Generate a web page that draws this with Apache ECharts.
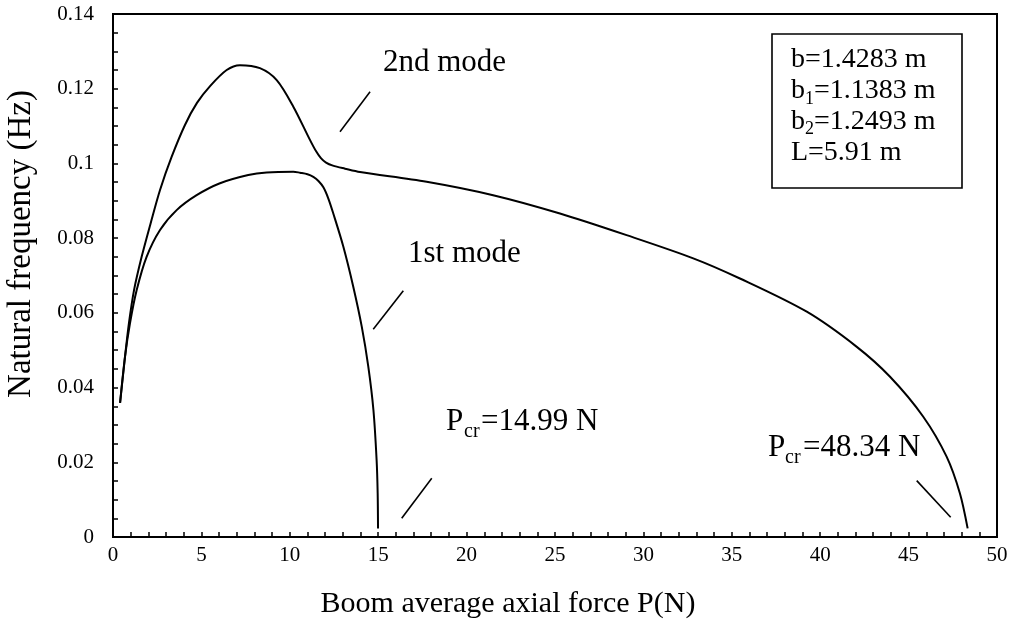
<!DOCTYPE html>
<html>
<head>
<meta charset="utf-8">
<script src="https://cdn.jsdelivr.net/npm/echarts@6/dist/echarts.min.js"></script>
<style>
  html, body { margin: 0; padding: 0; background: #fff; }
  #chart { width: 1011px; height: 623px; }
</style>
</head>
<body>
<div id="chart"></div>
<script>
// Natural frequency of the boom vs. average axial force, first two modes
const mode1 = [
  [0.40, 0.0359], [0.68, 0.0483], [0.96, 0.0572], [1.34, 0.0661], [1.90, 0.0750],
  [2.66, 0.0822], [3.60, 0.0875], [4.73, 0.0915], [6.05, 0.0947], [7.65, 0.0969],
  [8.69, 0.0976], [10.20, 0.0978], [10.58, 0.0975], [11.00, 0.0971], [11.33, 0.0964],
  [11.62, 0.0953], [11.90, 0.0936], [12.18, 0.0906], [12.46, 0.0866], [13.03, 0.0777],
  [13.59, 0.0670], [14.07, 0.0563], [14.44, 0.0456], [14.73, 0.0340], [14.91, 0.0206],
  [14.97, 0.0117], [14.99, 0.0023]
];

const mode2 = [
  [0.40, 0.0359], [0.68, 0.0483], [0.90, 0.0572], [1.19, 0.0661], [1.62, 0.0750],
  [2.13, 0.0840], [2.66, 0.0929], [3.32, 0.1018], [4.07, 0.1103], [4.75, 0.1162],
  [5.49, 0.1207], [6.43, 0.1250], [7.18, 0.1263], [8.31, 0.1255],
  [9.26, 0.1223], [10.20, 0.1152], [11.14, 0.1063], [11.48, 0.1033], [11.76, 0.1014],
  [12.05, 0.1002], [12.44, 0.0994], [13.12, 0.0986], [13.97, 0.0977], [17.74, 0.0951],
  [21.50, 0.0915], [25.28, 0.0866], [29.05, 0.0808], [32.82, 0.0746], [35.46, 0.0692],
  [39.24, 0.0603], [42.07, 0.0509], [43.95, 0.0429], [45.83, 0.0322], [47.15, 0.0215],
  [47.90, 0.0117], [48.34, 0.0023]
];

// short pointer strokes from each annotation toward its curve
const pointer2nd = [[12.84, 0.1085], [14.54, 0.1192]];
const pointer1st = [[14.72, 0.0556], [16.42, 0.0659]];
const pointerPcr1 = [[16.33, 0.0050], [18.03, 0.0157]];
const pointerPcr2 = [[45.46, 0.0151], [47.38, 0.0053]];

const xTitle = 'Boom average axial force P(N)';
const yTitle = 'Natural frequency (Hz)';
const label2nd = '2nd mode';
const label1st = '1st mode';
const pcr1Value = '=14.99 N';
const pcr2Value = '=48.34 N';
const paramLines = [
  { main: 'b', sub: '', rest: '=1.4283 m' },
  { main: 'b', sub: '1', rest: '=1.1383 m' },
  { main: 'b', sub: '2', rest: '=1.2493 m' },
  { main: 'L', sub: '', rest: '=5.91 m' }
];

const FONT = '"Liberation Serif", "Times New Roman", serif';

const chart = echarts.init(document.getElementById('chart'), null, { renderer: 'canvas' });

function curve(data) {
  return {
    type: 'line', data: data, showSymbol: false, smooth: 0.3,
    lineStyle: { color: '#000', width: 2 }, silent: true, z: 3
  };
}
function pointer(data) {
  return {
    type: 'line', data: data, showSymbol: false,
    lineStyle: { color: '#000', width: 1.6 }, silent: true, z: 3
  };
}

// text pieces for the parameter box
const boxLeft = 791, boxTop0 = 61, boxStep = 30.8;
const boxTexts = [];
paramLines.forEach(function (ln, i) {
  const y = boxTop0 + i * boxStep;
  const mainW = ln.main === 'b' ? 14 : 17;
  boxTexts.push({ type: 'text', left: boxLeft, top: y - 15, style: { text: ln.main, font: '28px ' + FONT, fill: '#000' } });
  let x = boxLeft + mainW;
  if (ln.sub) {
    boxTexts.push({ type: 'text', left: x, top: y - 2, style: { text: ln.sub, font: '18px ' + FONT, fill: '#000' } });
    x += 9;
  }
  boxTexts.push({ type: 'text', left: x, top: y - 15, style: { text: ln.rest, font: '28px ' + FONT, fill: '#000' } });
});

chart.setOption({
  animation: false,
  backgroundColor: '#fff',
  grid: {
    left: 113, right: 14, top: 14, bottom: 86,
    show: true, borderColor: '#000', borderWidth: 2, backgroundColor: 'transparent'
  },
  xAxis: {
    type: 'value', min: 0, max: 50, interval: 5,
    axisLine: { show: true, onZero: false, lineStyle: { color: '#000', width: 2 } },
    axisTick: { show: true, inside: true, length: 5, lineStyle: { color: '#000', width: 1.5 } },
    minorTick: { show: true, splitNumber: 5, length: 5, lineStyle: { color: '#000', width: 1.5 } },
    splitLine: { show: false },
    axisLabel: { color: '#000', fontSize: 21, fontFamily: FONT, margin: 8 }
  },
  yAxis: {
    type: 'value', min: 0, max: 0.14, interval: 0.02,
    axisLine: { show: true, onZero: false, lineStyle: { color: '#000', width: 2 } },
    axisTick: { show: true, inside: true, length: 5, lineStyle: { color: '#000', width: 1.5 } },
    minorTick: { show: true, splitNumber: 4, length: 5, lineStyle: { color: '#000', width: 1.5 } },
    splitLine: { show: false },
    axisLabel: {
      color: '#000', fontSize: 21, fontFamily: FONT, margin: 19,
      formatter: function (v) { return String(Math.round(v * 100) / 100); }
    }
  },
  series: [
    curve(mode1), curve(mode2),
    pointer(pointer2nd), pointer(pointer1st), pointer(pointerPcr1), pointer(pointerPcr2)
  ],
  graphic: [
    { type: 'text', x: 508, y: 604, style: { text: xTitle, font: '30px ' + FONT, fill: '#000', align: 'center', verticalAlign: 'middle' } },
    { type: 'text', x: 21, y: 244, rotation: Math.PI / 2, style: { text: yTitle, font: '33px ' + FONT, fill: '#000', align: 'center', verticalAlign: 'middle' } },
    { type: 'text', x: 383, y: 63, style: { text: label2nd, font: '31px ' + FONT, fill: '#000', align: 'left', verticalAlign: 'middle' } },
    { type: 'text', x: 408, y: 254, style: { text: label1st, font: '31px ' + FONT, fill: '#000', align: 'left', verticalAlign: 'middle' } },
    { type: 'text', x: 446, y: 422, style: { text: 'P', font: '31px ' + FONT, fill: '#000', align: 'left', verticalAlign: 'middle' } },
    { type: 'text', x: 464, y: 432, style: { text: 'cr', font: '20px ' + FONT, fill: '#000', align: 'left', verticalAlign: 'middle' } },
    { type: 'text', x: 481, y: 422, style: { text: pcr1Value, font: '31px ' + FONT, fill: '#000', align: 'left', verticalAlign: 'middle' } },
    { type: 'text', x: 768, y: 448, style: { text: 'P', font: '31px ' + FONT, fill: '#000', align: 'left', verticalAlign: 'middle' } },
    { type: 'text', x: 785, y: 458, style: { text: 'cr', font: '20px ' + FONT, fill: '#000', align: 'left', verticalAlign: 'middle' } },
    { type: 'text', x: 803, y: 448, style: { text: pcr2Value, font: '31px ' + FONT, fill: '#000', align: 'left', verticalAlign: 'middle' } },
    { type: 'rect', shape: { x: 772, y: 34, width: 190, height: 154 }, style: { fill: '#fff', stroke: '#000', lineWidth: 1.6 }, z: 10 }
  ].concat(boxTexts.map(function (t) { t.z = 11; return t; }))
});
</script>
</body>
</html>
